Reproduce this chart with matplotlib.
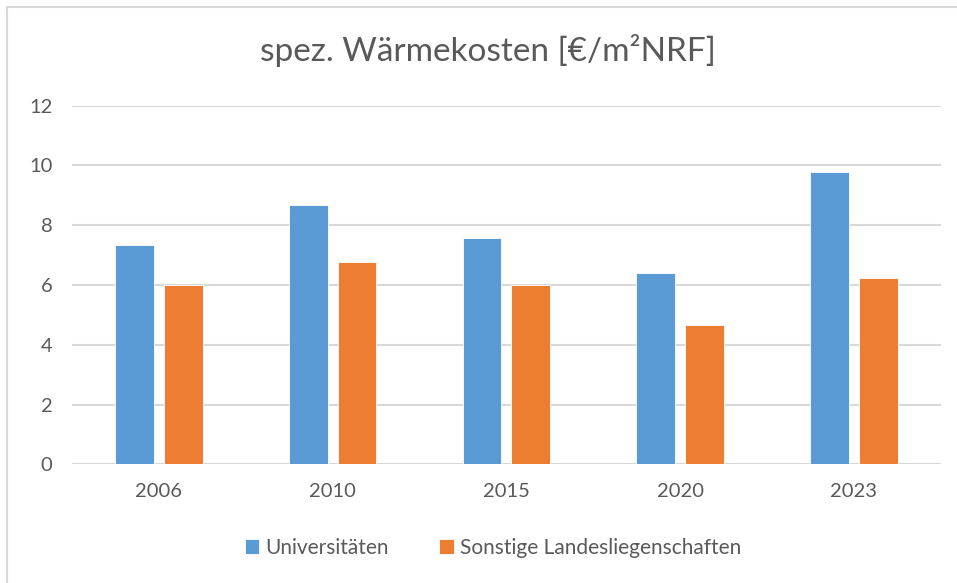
import numpy as np
import matplotlib.pyplot as plt
from matplotlib.lines import Line2D

years = ["2006", "2010", "2015", "2020", "2023"]
universitaeten = [7.33, 8.67, 7.58, 6.41, 9.78]
sonstige = [6.0, 6.77, 6.0, 4.66, 6.22]

blue = "#5b9bd5"
orange = "#ed7d31"
text_col = "#595959"
grid_col = "#d9d9d9"

plt.rcParams['font.family'] = ['Lato', 'DejaVu Sans']

fig = plt.figure(figsize=(9.57, 5.83), dpi=100)
ax = fig.add_axes([0.0752, 0.2033, 0.9078, 0.6157])

x = np.arange(len(years))
w = 0.223
off = 0.14
ax.bar(x - off, universitaeten, w, color=blue, edgecolor="white", linewidth=0.6,
       label="Universitäten", zorder=3)
ax.bar(x + off, sonstige, w, color=orange, edgecolor="white", linewidth=0.6,
       label="Sonstige Landesliegenschaften", zorder=3)

ax.set_xlim(-0.5, len(years) - 0.5)
ax.set_ylim(0, 12)
ax.set_yticks(range(0, 13, 2))
ax.set_xticks(x)
ax.set_xticklabels(years)
ax.yaxis.grid(True, color=grid_col, linewidth=1.5, zorder=0)
for s in ax.spines.values():
    s.set_visible(False)
ax.axhline(0, color=grid_col, linewidth=1.5, zorder=1)
ax.tick_params(axis="both", length=0, labelsize=14.5, colors=text_col)
ax.tick_params(axis="y", pad=14)
ax.tick_params(axis="x", pad=13)

fig.text(0.51, 0.914, "spez. Wärmekosten [€/m²NRF]", ha="center", va="center",
         fontsize=24, color=text_col)

fig.legend(loc="center", bbox_to_anchor=(0.515, 0.06), ncol=2, frameon=False,
           fontsize=15, labelcolor=text_col, handlelength=0.7, handleheight=0.7,
           handletextpad=0.3, columnspacing=2.4)

# chart border (only left and top edges are inside the picture)
fig.add_artist(Line2D([7 / 957, 7 / 957], [0, 1 - 7 / 583], transform=fig.transFigure,
                      color=grid_col, linewidth=1.5))
fig.add_artist(Line2D([7 / 957, 1], [1 - 7 / 583, 1 - 7 / 583], transform=fig.transFigure,
                      color=grid_col, linewidth=1.5))

fig.savefig("out.png", dpi=100)
